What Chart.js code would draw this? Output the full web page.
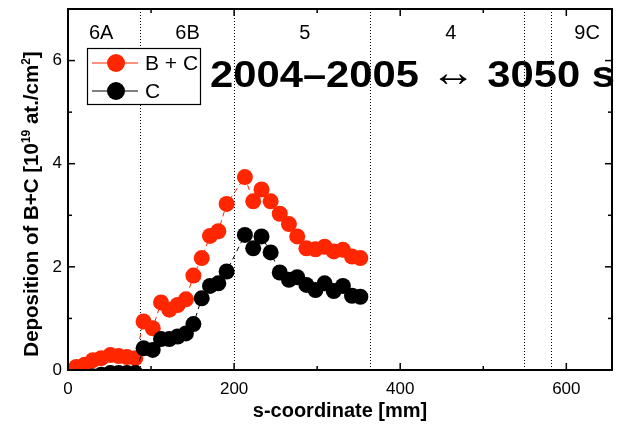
<!DOCTYPE html>
<html><head><meta charset="utf-8">
<script src="https://cdn.jsdelivr.net/npm/chart.js@4.4.1/dist/chart.umd.min.js"></script>
<style>html,body{margin:0;padding:0;background:#fff;}</style>
</head><body>
<canvas id="c" width="623" height="431"></canvas>
<script>
// ---- data ----
const sCoord = [10,20,30,40,51,61,71,81,91,102,112,122,132,142,151,161,171,181,191,213,223,233,244,255,266,276,287,298,309,320,331,342,352];
const depBC  = [0.06,0.10,0.19,0.23,0.29,0.27,0.25,0.23,0.94,0.81,1.31,1.17,1.26,1.37,1.83,2.17,2.60,2.69,3.22,3.74,3.27,3.50,3.27,3.03,2.83,2.59,2.36,2.34,2.39,2.30,2.33,2.20,2.17];
const depC   = [-0.14,-0.15,-0.12,-0.09,-0.06,-0.06,-0.06,-0.06,0.42,0.39,0.60,0.60,0.65,0.71,0.89,1.39,1.63,1.68,1.91,2.62,2.36,2.59,2.28,1.89,1.75,1.80,1.65,1.55,1.68,1.53,1.63,1.44,1.42];
const seriesLabels = ['B + C','C'];
const xTickValues = [0,200,400,600];
const xMinorTicks = [100,300,500];
const yTickValues = [0,2,4,6];
const yMinorTicks = [1,3,5];
const regionBounds = [87,200,364,549,582];
const regionNames = ['6A','6B','5','4','9C'];
const regionCenters = [40,144,285,461,625];
const annotationParts = ['2004–2005 ','↔',' 3050 s'];
const xTitle = 's-coordinate [mm]';
const yTitleParts = [['Deposition of B+C [10',false],['19',true],[' at./cm',false],['2',true],[']',false]];

const RED = '#ff2600', BLACK = '#000000';
const FONT = '"Liberation Sans", Arial, Helvetica, sans-serif';

const overlay = {
  id: 'overlay',
  beforeDatasetsDraw(chart) {
    const {ctx, chartArea: a, scales: {x}} = chart;
    ctx.save();
    ctx.strokeStyle = '#000'; ctx.lineWidth = 1; ctx.setLineDash([1,2]);
    regionBounds.forEach(b => {
      const px = Math.round(x.getPixelForValue(b)) + 0.5;
      ctx.beginPath(); ctx.moveTo(px, a.top); ctx.lineTo(px, a.bottom); ctx.stroke();
    });
    ctx.restore();
  },
  afterDraw(chart) {
    const {ctx, chartArea: a, scales: {x, y}} = chart;
    ctx.save();
    ctx.setLineDash([]);
    ctx.strokeStyle = '#000';
    const line = (x1,y1,x2,y2) => { ctx.beginPath(); ctx.moveTo(x1,y1); ctx.lineTo(x2,y2); ctx.stroke(); };
    // ticks (inward) on all four sides
    ctx.lineWidth = 1.5;
    xTickValues.forEach(v => { const p = x.getPixelForValue(v); line(p,a.bottom,p,a.bottom-7); line(p,a.top,p,a.top+7); });
    xMinorTicks.forEach(v => { const p = x.getPixelForValue(v); line(p,a.bottom,p,a.bottom-4); line(p,a.top,p,a.top+4); });
    yTickValues.forEach(v => { const p = y.getPixelForValue(v); line(a.left,p,a.left+7,p); line(a.right,p,a.right-7,p); });
    yMinorTicks.forEach(v => { const p = y.getPixelForValue(v); line(a.left,p,a.left+4,p); line(a.right,p,a.right-4,p); });
    // frame
    ctx.lineWidth = 2;
    ctx.strokeRect(a.left, a.top, a.right - a.left, a.bottom - a.top);

    // region labels
    ctx.fillStyle = '#000';
    ctx.font = '20px ' + FONT; ctx.textAlign = 'center'; ctx.textBaseline = 'middle';
    regionNames.forEach((n,i) => ctx.fillText(n, x.getPixelForValue(regionCenters[i]), a.top + 24));

    // legend box
    const lx = a.left + 19, ly = a.top + 39, lw = 113, lh = 56;
    ctx.fillStyle = '#fff'; ctx.fillRect(lx, ly, lw, lh);
    ctx.lineWidth = 1.2; ctx.strokeStyle = '#000'; ctx.strokeRect(lx+0.5, ly+0.5, lw, lh);
    const dsets = chart.data.datasets;
    [0,1].forEach(i => {
      const ds = dsets[i];
      const cy = ly + 15 + i*28;
      ctx.strokeStyle = ds.borderColor; ctx.lineWidth = 1;
      line(lx+5, cy, lx+51, cy);
      ctx.fillStyle = ds.pointBackgroundColor;
      ctx.beginPath(); ctx.arc(lx+29, cy, 9, 0, Math.PI*2); ctx.fill();
      ctx.fillStyle = '#000'; ctx.font = '21px ' + FONT; ctx.textAlign = 'left'; ctx.textBaseline = 'middle';
      ctx.fillText(ds.label, lx+58, cy+1);
    });

    // big annotation text
    const fonts = ['bold 37px ' + FONT, '40px ' + FONT, 'bold 37px ' + FONT];
    let total = 0; const widths = [];
    annotationParts.forEach((t,i) => { ctx.font = fonts[i]; const w = ctx.measureText(t).width; widths.push(w); total += w; });
    const tx = a.left + 142, tb = a.top + 78, targetW = 405;
    const sx = targetW / total;
    ctx.save();
    ctx.translate(tx, tb); ctx.scale(sx, 1);
    ctx.fillStyle = '#000'; ctx.textAlign = 'left'; ctx.textBaseline = 'alphabetic';
    let cx = 0;
    annotationParts.forEach((t,i) => { ctx.font = fonts[i]; ctx.fillText(t, cx, i === 1 ? -1 : 0); cx += widths[i]; });
    ctx.restore();

    // x title
    ctx.fillStyle = '#000'; ctx.font = 'bold 20px ' + FONT; ctx.textAlign = 'center'; ctx.textBaseline = 'middle';
    ctx.fillText(xTitle, (a.left + a.right)/2, 411);

    // y title (rotated, with superscripts)
    ctx.save();
    ctx.translate(31, 204); ctx.rotate(-Math.PI/2);
    const mainF = 'bold 20.5px ' + FONT, supF = 'bold 12px ' + FONT;
    let tw = 0;
    yTitleParts.forEach(([t,s]) => { ctx.font = s ? supF : mainF; tw += ctx.measureText(t).width; });
    let px = -tw/2;
    ctx.textAlign = 'left'; ctx.textBaseline = 'alphabetic';
    yTitleParts.forEach(([t,s]) => { ctx.font = s ? supF : mainF; ctx.fillText(t, px, s ? -1 : 7); px += ctx.measureText(t).width; });
    ctx.restore();

    ctx.restore();
  }
};

new Chart(document.getElementById('c'), {
  type: 'line',
  data: {
    datasets: [
      { label: seriesLabels[0], data: sCoord.map((s,i) => ({x: s, y: depBC[i]})),
        borderColor: RED, backgroundColor: RED, pointBackgroundColor: RED, pointBorderWidth: 0,
        pointRadius: 8, borderWidth: 1, borderDash: [5,4], tension: 0, order: 1, clip: 0 },
      { label: seriesLabels[1], data: sCoord.map((s,i) => ({x: s, y: depC[i]})),
        borderColor: BLACK, backgroundColor: BLACK, pointBackgroundColor: BLACK, pointBorderWidth: 0,
        pointRadius: 8, borderWidth: 1, borderDash: [5,4], tension: 0, order: 0, clip: 0 }
    ]
  },
  options: {
    responsive: false, animation: false, devicePixelRatio: 1,
    layout: { padding: { top: 9, right: 11, left: 0, bottom: 0 } },
    plugins: { legend: { display: false }, tooltip: { enabled: false } },
    scales: {
      x: { type: 'linear', min: 0, max: 655,
        afterFit: s => { s.height = 61; s.paddingLeft = 0; s.paddingRight = 0; },
        afterBuildTicks: s => { s.ticks = xTickValues.map(v => ({value: v})); },
        grid: { display: false, drawTicks: false }, border: { display: false },
        ticks: { color: '#000', font: { family: FONT, size: 17 }, padding: 9, maxRotation: 0 } },
      y: { type: 'linear', min: 0, max: 7,
        afterFit: s => { s.width = 68; s.paddingTop = 0; s.paddingBottom = 0; },
        afterBuildTicks: s => { s.ticks = yTickValues.map(v => ({value: v})); },
        grid: { display: false, drawTicks: false }, border: { display: false },
        ticks: { color: '#000', font: { family: FONT, size: 17 }, padding: 6 } }
    }
  },
  plugins: [overlay]
});
</script>
</body></html>
